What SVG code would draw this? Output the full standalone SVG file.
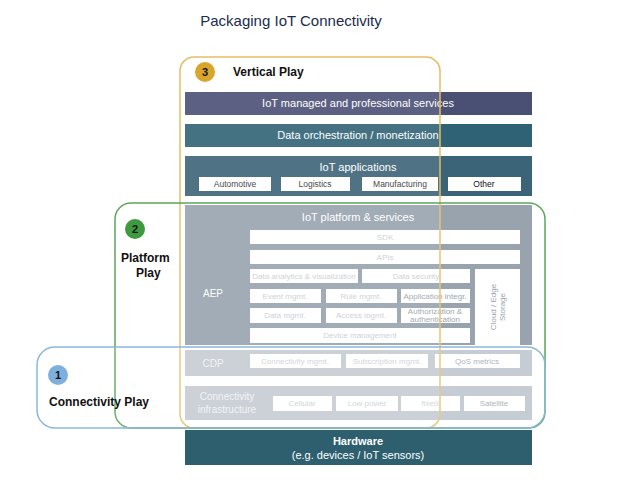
<svg xmlns="http://www.w3.org/2000/svg" width="635" height="483" viewBox="0 0 635 483">
<style>
text{font-family:"Liberation Sans",Arial,sans-serif}
.w{fill:#fff}
.s{font-size:8px;fill:#c4c9cf;text-anchor:middle}
.h{font-size:11px;fill:#fff;text-anchor:middle}
.ov{fill:#fff;fill-opacity:0.1;stroke-width:1.5}
.lbl{font-size:12px;font-weight:bold;fill:#111}
</style>
<rect width="635" height="483" fill="#fff"/>
<text x="291" y="26" font-size="15" fill="#1c2b4a" text-anchor="middle">Packaging IoT Connectivity</text>
<g id="layers">
<g id="managed"><rect x="185" y="92" width="347" height="23" fill="#4a4f74"/><text class="h" x="358" y="107">IoT managed and professional services</text></g>
<g id="orch"><rect x="185" y="124" width="347" height="23" fill="#2f6275"/><text class="h" x="358" y="139">Data orchestration / monetization</text></g>
<g id="apps"><rect x="185" y="156" width="347" height="40" fill="#3b6478"/><text class="h" x="358" y="171">IoT applications</text>
<rect class="w" x="199" y="177" width="72" height="14"/><text x="235" y="187" font-size="8.5" fill="#333" text-anchor="middle">Automotive</text>
<rect class="w" x="281" y="177" width="69" height="14"/><text x="315" y="187" font-size="8.5" fill="#333" text-anchor="middle">Logistics</text>
<rect class="w" x="362" y="177" width="76" height="14"/><text x="400" y="187" font-size="8.5" fill="#333" text-anchor="middle">Manufacturing</text>
<rect class="w" x="448" y="177" width="73" height="14"/><text x="484" y="187" font-size="8.5" fill="#111" text-anchor="middle">Other</text></g>
<g id="aep"><rect x="185" y="205" width="347" height="140" fill="#8d99a5"/>
<text class="h" x="358" y="221">IoT platform &amp; services</text>
<text x="213" y="297" font-size="10" fill="#fff" text-anchor="middle">AEP</text>
<rect class="w" x="250" y="230" width="270" height="14"/><text class="s" x="385" y="240">SDK</text>
<rect class="w" x="250" y="250" width="270" height="14"/><text class="s" x="385" y="260">APIs</text>
<rect class="w" x="250" y="269" width="108" height="14"/><text class="s" x="304" y="279">Data analytics &amp; visualization</text>
<rect class="w" x="362" y="269" width="108" height="14"/><text class="s" x="416" y="279">Data security</text>
<rect class="w" x="475" y="269" width="45" height="76"/><text class="s" transform="translate(497,307) rotate(-90)" y="-1" style="fill:#8d99a5">Cloud / Edge</text><text class="s" transform="translate(497,307) rotate(-90)" y="8" style="fill:#8d99a5">Storage</text>
<rect class="w" x="250" y="289" width="71" height="14"/><text class="s" x="285" y="299">Event mgmt.</text>
<rect class="w" x="326" y="289" width="71" height="14"/><text class="s" x="361" y="299">Rule mgmt.</text>
<rect class="w" x="401" y="289" width="69" height="14"/><text class="s" x="435" y="299" style="fill:#8d99a5">Application integr.</text>
<rect class="w" x="250" y="308" width="71" height="15"/><text class="s" x="285" y="318">Data mgmt.</text>
<rect class="w" x="326" y="308" width="71" height="15"/><text class="s" x="361" y="318">Access mgmt.</text>
<rect class="w" x="401" y="308" width="69" height="15"/><text class="s" x="435" y="314" style="fill:#8d99a5">Authorization &amp;</text><text class="s" x="435" y="322" style="fill:#8d99a5">authentication</text>
<rect class="w" x="250" y="328" width="220" height="15"/><text class="s" x="360" y="338">Device management</text></g>
<g id="cdp"><rect x="185" y="350" width="347" height="26" fill="#b9c1c9"/><text x="213" y="367" font-size="10" fill="#eef0f2" text-anchor="middle">CDP</text>
<rect class="w" x="250" y="354" width="91" height="14"/><text class="s" x="295" y="364">Connectivity mgmt.</text>
<rect class="w" x="346" y="354" width="82" height="14"/><text class="s" x="387" y="364">Subscription mgmt.</text>
<rect class="w" x="435" y="354" width="85" height="14"/><text class="s" x="477" y="364" style="fill:#9aa5af">QoS metrics</text></g>
<g id="infra"><rect x="185" y="386" width="347" height="34" fill="#b9c1c9"/><text x="227" y="400" font-size="10" fill="#eef0f2" text-anchor="middle">Connectivity</text><text x="227" y="413" font-size="10" fill="#eef0f2" text-anchor="middle">infrastructure</text>
<rect class="w" x="273" y="396" width="59" height="15"/><text class="s" x="302" y="406">Cellular</text>
<rect class="w" x="336" y="396" width="62" height="15"/><text class="s" x="367" y="406">Low power</text>
<rect class="w" x="401" y="396" width="59" height="15"/><text class="s" x="430" y="406">fixed</text>
<rect class="w" x="464" y="396" width="61" height="15"/><text class="s" x="494" y="406" style="fill:#9aa5af">Satellite</text></g>
<g id="hardware"><rect x="185" y="430" width="347" height="35" fill="#2d5f6e"/><text x="358" y="445" font-size="11" font-weight="bold" fill="#fff" text-anchor="middle">Hardware</text><text class="h" x="358" y="459">(e.g. devices / IoT sensors)</text></g>
</g>
<g id="connectors">
<g id="vertical"><rect class="ov" x="180" y="57" width="260" height="371" rx="14" stroke="#e3be63"/><circle cx="205" cy="72" r="10" fill="#d9a52b"/><text x="205" y="76" font-size="11" font-weight="bold" fill="#111" text-anchor="middle">3</text><text class="lbl" x="233" y="76">Vertical Play</text></g>
<g id="platform"><rect class="ov" x="115" y="203" width="430" height="225" rx="16" stroke="#5aa65a"/><circle cx="135" cy="229" r="10" fill="#3e9a3e"/><text x="135" y="233" font-size="11" font-weight="bold" fill="#111" text-anchor="middle">2</text><text class="lbl" x="121" y="262">Platform</text><text class="lbl" x="136" y="277">Play</text></g>
<g id="connectivity"><rect class="ov" x="37" y="347" width="508" height="81" rx="18" stroke="#8ab8d8"/><circle cx="58" cy="375" r="10" fill="#7fb0dd"/><text x="58" y="379" font-size="11" font-weight="bold" fill="#111" text-anchor="middle">1</text><text class="lbl" x="49" y="406">Connectivity Play</text></g>
</g>
</svg>
